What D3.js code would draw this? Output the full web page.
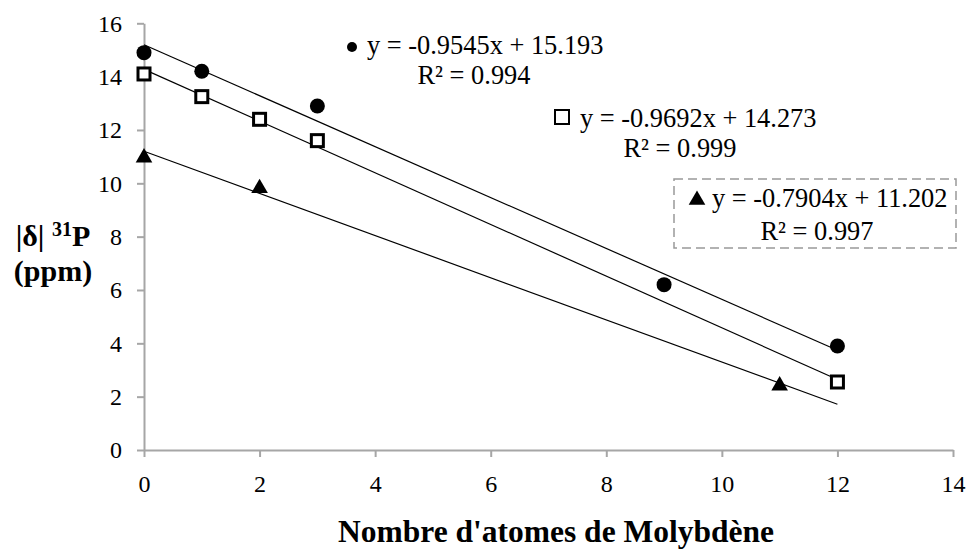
<!DOCTYPE html>
<html>
<head>
<meta charset="utf-8">
<script src="https://cdn.jsdelivr.net/npm/d3@7"></script>
<style>
  body { margin: 0; background: #fff; }
  svg text { font-family: "Liberation Serif", Tinos, "Times New Roman", Times, serif; }
</style>
</head>
<body>
<div id="chart"></div>
<script>
// data
var circleX = [0, 1, 3, 9, 12];
var circleY = [14.9, 14.2, 12.9, 6.2, 3.9];
var squareX = [0, 1, 2, 3, 12];
var squareY = [14.1, 13.25, 12.4, 11.6, 2.55];
var triangleX = [0, 2, 11];
var triangleY = [11.0, 9.85, 2.45];

var trendSlope = [-0.9545, -0.9692, -0.7904];
var trendIntercept = [15.193, 14.273, 11.202];
var trendLabels = ["y = -0.9545x + 15.193", "y = -0.9692x + 14.273", "y = -0.7904x + 11.202"];
var r2Labels = ["R² = 0.994", "R² = 0.999", "R² = 0.997"];

var xTicks = [0, 2, 4, 6, 8, 10, 12, 14];
var yTicks = [0, 2, 4, 6, 8, 10, 12, 14, 16];

var width = 967;
var height = 551;

var x = d3.scaleLinear().domain([0, 14]).range([144, 953]);
var y = d3.scaleLinear().domain([0, 16]).range([450, 23.3]);

var svg = d3.select("#chart")
    .append("svg")
    .attr("width", width)
    .attr("height", height);

var axisColour = "#a6a6a6";

// y axis
var yAxis = svg.append("g")
    .attr("transform", "translate(" + x(0) + ",0)")
    .call(d3.axisLeft(y).tickValues(yTicks).tickSize(7).tickSizeOuter(0).tickPadding(15));
// x axis
var xAxis = svg.append("g")
    .attr("transform", "translate(0," + y(0) + ")")
    .call(d3.axisBottom(x).tickValues(xTicks).tickSize(7).tickSizeOuter(0));

[xAxis, yAxis].forEach(function(a) {
    a.attr("font-family", null).attr("font-size", null);
    a.select(".domain").attr("stroke", axisColour).attr("stroke-width", 2);
    a.selectAll(".tick line").attr("stroke", axisColour).attr("stroke-width", 2);
    a.selectAll(".tick text")
        .attr("fill", "#000")
        .style("font-size", "24px");
});
xAxis.selectAll(".tick text").attr("y", 42).attr("dy", 0);
yAxis.selectAll(".tick text").attr("dy", "0.33em");

// trendlines
var trendEnd = [12, 12, 12];
var trends = svg.append("g").attr("class", "trends");
trendSlope.forEach(function(m, i) {
    trends.append("line")
        .attr("x1", x(0))
        .attr("y1", y(trendIntercept[i]))
        .attr("x2", x(trendEnd[i]))
        .attr("y2", y(trendIntercept[i] + m * trendEnd[i]))
        .attr("stroke", "#000")
        .attr("stroke-width", 1.2);
});

var triPath = d3.symbol().type(d3.symbolTriangle).size(120);

// markers
svg.append("g").selectAll("circle")
    .data(d3.zip(circleX, circleY))
    .enter().append("circle")
    .attr("cx", function(d) { return x(d[0]); })
    .attr("cy", function(d) { return y(d[1]); })
    .attr("r", 7.5)
    .attr("fill", "#000");

svg.append("g").selectAll("rect")
    .data(d3.zip(squareX, squareY))
    .enter().append("rect")
    .attr("x", function(d) { return x(d[0]) - 6; })
    .attr("y", function(d) { return y(d[1]) - 6; })
    .attr("width", 12)
    .attr("height", 12)
    .attr("fill", "#fff")
    .attr("stroke", "#000")
    .attr("stroke-width", 3);

svg.append("g").selectAll("path")
    .data(d3.zip(triangleX, triangleY))
    .enter().append("path")
    .attr("d", triPath)
    .attr("transform", function(d) { return "translate(" + x(d[0]) + "," + (y(d[1]) + 1) + ")"; })
    .attr("fill", "#000");

// equation labels
var ann = svg.append("g").style("font-size", "26.4px").attr("fill", "#000");

ann.append("circle").attr("cx", 352).attr("cy", 47).attr("r", 5).attr("fill", "#000");
ann.append("text").attr("x", 367).attr("y", 54).text(trendLabels[0]);
ann.append("text").attr("x", 474).attr("y", 84).attr("text-anchor", "middle").text(r2Labels[0]);

ann.append("rect").attr("x", 555).attr("y", 110).attr("width", 14).attr("height", 14)
    .attr("fill", "#fff").attr("stroke", "#000").attr("stroke-width", 2);
ann.append("text").attr("x", 580).attr("y", 127).text(trendLabels[1]);
ann.append("text").attr("x", 680).attr("y", 157).attr("text-anchor", "middle").text(r2Labels[1]);

ann.append("rect").attr("x", 674).attr("y", 179).attr("width", 282).attr("height", 69)
    .attr("fill", "none").attr("stroke", "#999").attr("stroke-width", 1.5)
    .attr("stroke-dasharray", "9,5");
ann.append("path").attr("d", triPath).attr("transform", "translate(697,200)").attr("fill", "#000");
ann.append("text").attr("x", 712).attr("y", 207).text(trendLabels[2]);
ann.append("text").attr("x", 817).attr("y", 240).attr("text-anchor", "middle").text(r2Labels[2]);

// axis titles
var line1 = svg.append("text")
    .attr("x", 53)
    .attr("y", 246)
    .attr("text-anchor", "middle")
    .style("font-size", "30px")
    .style("font-weight", "bold");
line1.append("tspan").text("|δ| ");
line1.append("tspan").text("31").style("font-size", "20px").attr("dy", -10);
line1.append("tspan").text("P").attr("dy", 10);

svg.append("text")
    .attr("x", 53)
    .attr("y", 281)
    .attr("text-anchor", "middle")
    .style("font-size", "30px")
    .style("font-weight", "bold")
    .text("(ppm)");

svg.append("text")
    .attr("x", 556)
    .attr("y", 542)
    .attr("text-anchor", "middle")
    .style("font-size", "31.5px")
    .style("font-weight", "bold")
    .text("Nombre d'atomes de Molybdène");
</script>
</body>
</html>
